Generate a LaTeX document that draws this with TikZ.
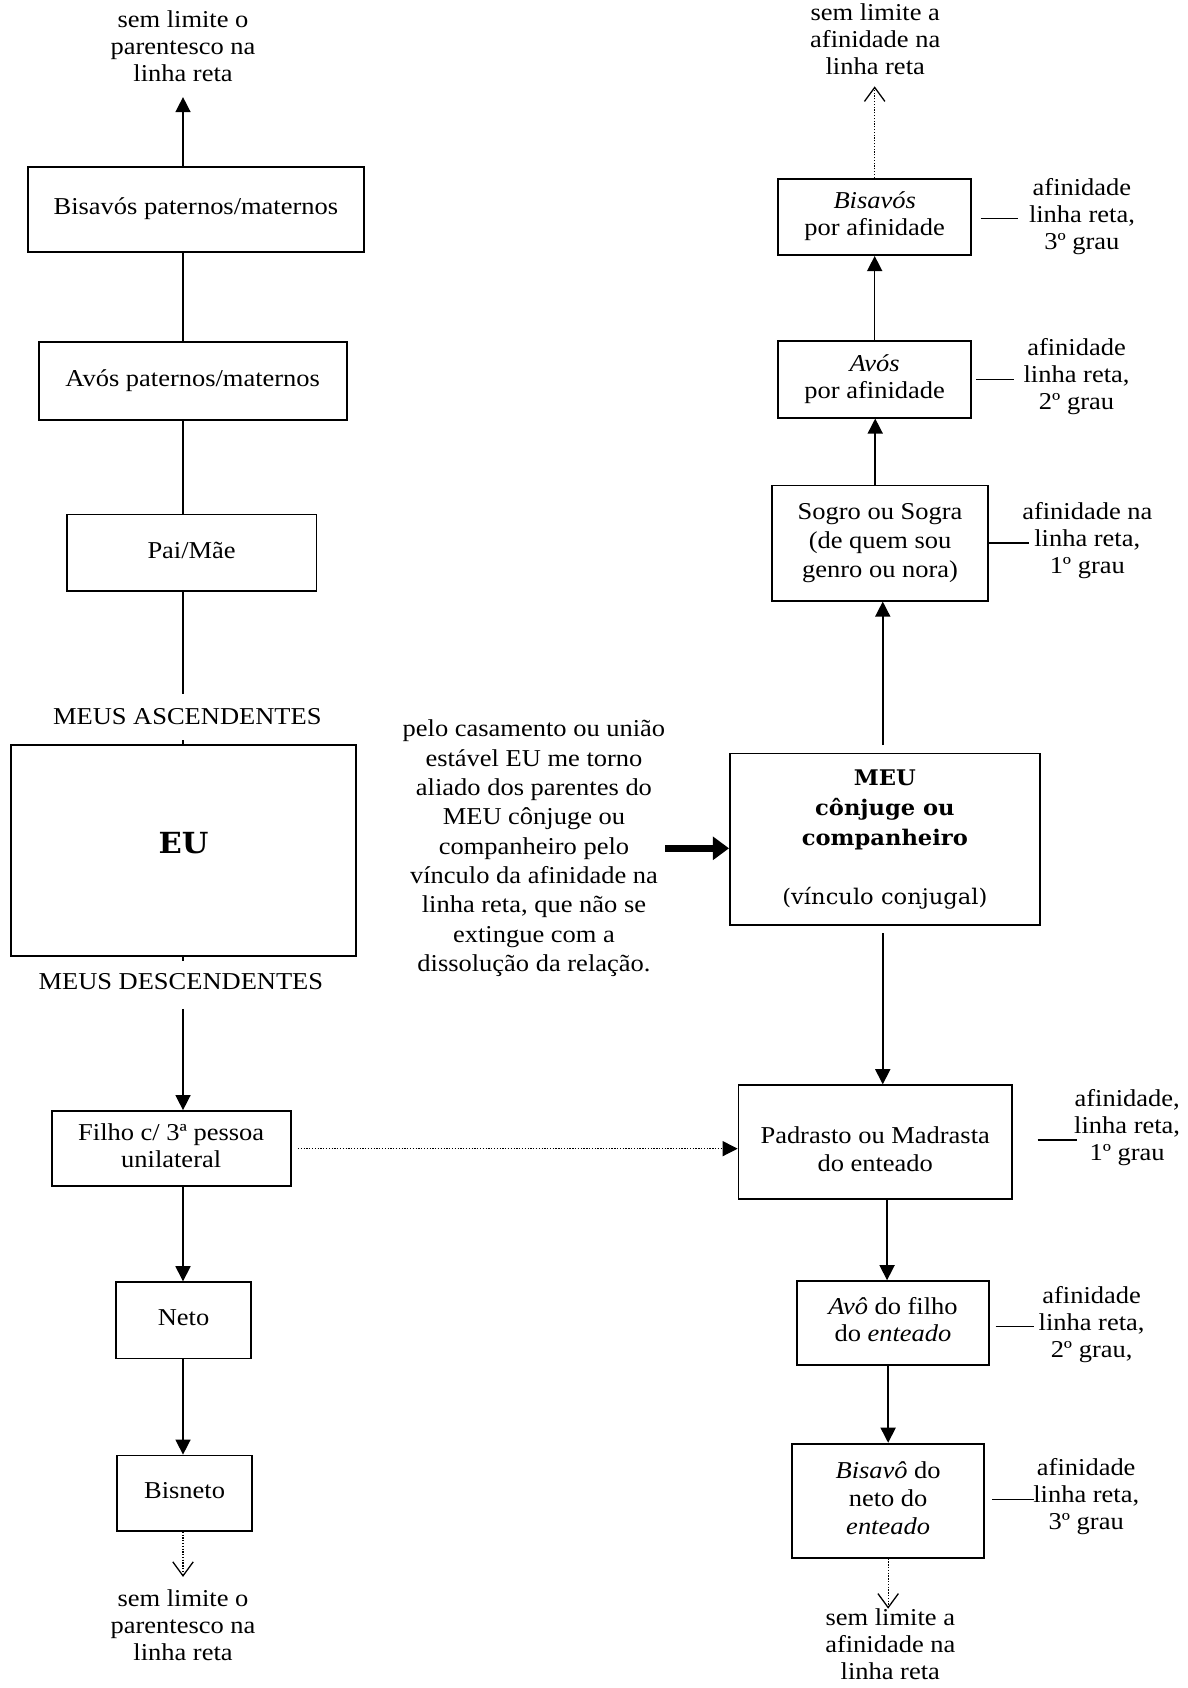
\documentclass[tikz,border=0pt]{standalone}
\usepackage{fontspec}
\setmainfont{Liberation Serif}[FakeStretch=1.093]
\newfontfamily\meufont{DejaVu Serif}[FakeStretch=1.05]
\usetikzlibrary{arrows.meta}
% centred stack of lines with strut-based spacing
\newcommand{\lns}[1]{\begin{tabular}{@{}c@{}}#1\end{tabular}}
% move the ink of a box without changing its reported size
\newcommand{\shiftdown}[2]{\raisebox{-#1}[\height][\depth]{#2}}
\tikzset{
  base/.style={font=\fontsize{22.5}{25}\selectfont},
  box/.style={draw, line width=1.6pt, inner sep=0pt, base},
  txt/.style={inner sep=0pt, base},
  link/.style={line width=1.4pt},
  arr/.style={link, -{Triangle[length=14pt,width=14pt]}},
  dotarr/.style={line width=1.1pt, dash pattern=on 1.2pt off 1.4pt,
    -{Straight Barb[length=13pt,width=19pt,line width=1.2pt]}},
  dotlink/.style={line width=1.1pt, dash pattern=on 1.2pt off 1.4pt,
    -{Triangle[length=14pt,width=14pt]}},
  side/.style={line width=1.4pt},
  bold arrow/.style={line width=6pt, -{Triangle[length=15pt,width=21pt]}},
}
\begin{document}
\begin{tikzpicture}[x=1pt,y=-1pt]
\useasboundingbox (0,0) rectangle (1103,1568);
\coordinate (xL) at (170,0);
\coordinate (xR) at (813,0);
\coordinate (xM) at (820,0);
\coordinate (xP) at (824,0);

% ---- own line: ascendants and descendants ----
\node[txt] (topL) at (170,46) {\lns{sem limite o\\parentesco na\\linha reta}};
\node[box, minimum width=312pt, minimum height=79pt] (bisL) at (182,194.5) {\lns{Bisavós paternos/maternos}};
\node[box, minimum width=286pt, minimum height=72pt] (avoL) at (179,354) {\lns{Avós paternos/maternos}};
\node[box, minimum width=232pt, minimum height=71pt] (pai) at (178,513.5) {\lns{Pai/Mãe}};
\node[txt] (asc) at (174,668) {\lns{MEUS ASCENDENTES}};
\node[box, minimum width=321pt, minimum height=196pt] (eu) at (170.5,790)
  {\raisebox{7pt}[\height][\depth]{\meufont\bfseries\fontsize{27}{30}\selectfont EU}};
\node[txt] (desc) at (168,914) {\lns{MEUS DESCENDENTES}};
\node[box, minimum width=222pt, minimum height=70pt] (filho) at (159,1067) {\lns{Filho c/ 3ª pessoa\\unilateral}};
\node[box, minimum width=125pt, minimum height=71pt] (neto) at (170.5,1226.5) {\lns{Neto}};
\node[box, minimum width=125pt, minimum height=70pt] (bisneto) at (171.5,1387) {\lns{Bisneto}};
\node[txt] (botL) at (170,1512) {\lns{sem limite o\\parentesco na\\linha reta}};

\draw[arr, shorten >=6.5pt] (bisL.north -| xL) -- (topL.south -| xL);
\draw[link] (bisL.south -| xL) -- (avoL.north -| xL);
\draw[link] (avoL.south -| xL) -- (pai.north -| xL);
\draw[link, shorten >=10.5pt] (pai.south -| xL) -- (asc.north -| xL);
\draw[link] (eu.north -| xL) -- ++(0,-4);
\draw[link] (eu.south -| xL) -- ++(0,4);
\draw[arr, shorten <=10.5pt] (desc.south -| xL) -- (filho.north -| xL);
\draw[arr] (filho.south -| xL) -- (neto.north -| xL);
\draw[arr] (neto.south -| xL) -- (bisneto.north -| xL);
\draw[dotarr, shorten >=9.5pt] (bisneto.south -| xL) -- (botL.north -| xL);

% ---- spouse's line: affinity ----
\node[txt] (topR) at (813,39) {\lns{sem limite a\\afinidade na\\linha reta}};
\node[box, minimum width=179pt, minimum height=71pt] (bisR) at (812.5,201.5) {\lns{\textit{Bisavós}\\por afinidade}};
\node[txt] (labBR) at (1005,202) {\lns{afinidade\\linha reta,\\3º grau}};
\node[box, minimum width=179pt, minimum height=71pt] (avoR) at (812.5,352.5) {\lns{\textit{Avós}\\por afinidade}};
\node[txt] (labAR) at (1000,350) {\lns{afinidade\\linha reta,\\2º grau}};
\node[box, minimum width=201pt, minimum height=107pt, font=\fontsize{22.5}{27}\selectfont] (sogro) at (817.5,504.5)
  {\lns{Sogro ou Sogra\\(de quem sou\\genro ou nora)}};
\node[txt] (labSR) at (1010,503) {\lns{afinidade na\\linha reta,\\1º grau}};

\node[txt, font=\fontsize{22.5}{27.25}\selectfont] (mid) at (496,788)
  {\lns{pelo casamento ou união\\estável EU me torno\\aliado dos parentes do\\MEU cônjuge ou\\companheiro pelo\\vínculo da afinidade na\\linha reta, que não se\\extingue com a\\dissolução da relação.}};
\node[box, minimum width=288pt, minimum height=159pt, font=\meufont\fontsize{20}{27.5}\selectfont] (meu) at (822,779.5)
  {\lns{\textbf{MEU}\\\textbf{cônjuge ou}\\\textbf{companheiro}\\\\(vínculo conjugal)}};

\node[box, minimum width=254pt, minimum height=106pt, font=\fontsize{22.5}{26}\selectfont] (padr) at (813,1061)
  {\shiftdown{9pt}{\lns{Padrasto ou Madrasta\\do enteado}}};
\node[txt] (labP) at (1047,1048) {\lns{afinidade,\\linha reta,\\1º grau}};
\node[box, minimum width=179pt, minimum height=78pt] (avoF) at (829.5,1229) {\lns{\textit{Avô} do filho\\do \textit{enteado}}};
\node[txt] (labAF) at (1014,1231) {\lns{afinidade\\linha reta,\\2º grau,}};
\node[box, minimum width=178pt, minimum height=106pt, font=\fontsize{22.5}{26}\selectfont] (bisF) at (825,1394)
  {\lns{\textit{Bisavô} do\\neto do\\\textit{enteado}}};
\node[txt] (labBF) at (1009,1391) {\lns{afinidade\\linha reta,\\3º grau}};
\node[txt] (botR) at (827,1530) {\lns{sem limite a\\afinidade na\\linha reta}};

\draw[dotarr, shorten >=3.5pt] (bisR.north) -- (topR.south -| bisR.north);
\draw[arr] (avoR.north) -- (bisR.south);
\draw[arr] (sogro.north -| xR) -- (avoR.south -| xR);
\draw[arr, shorten <=7pt] (meu.north -| xM) -- (sogro.south -| xM);
\draw[arr, shorten <=7pt] (meu.south -| xM) -- (padr.north -| xM);
\draw[arr] (padr.south -| xP) -- (avoF.north -| xP);
\draw[arr] (avoF.south -| bisF.north) -- (bisF.north);
\draw[dotarr, shorten >=-2pt] (bisF.south) -- (botR.north -| bisF.south);

\draw[bold arrow] (mid.east) -- (mid.east -| meu.west);
\draw[dotlink, shorten <=6pt] (filho.east) -- (filho.east -| padr.west);

% short ties between boxes and their degree labels
\draw[side] (bisR.east) ++(8,1.5) -- ++(35,0);
\draw[side] (avoR.east) ++(4,0) -- ++(35,0);
\draw[side] (sogro.east) -- ++(37,0);
\draw[side] (padr.east) ++(23,-2) -- ++(37,0);
\draw[side] (avoF.east) ++(5,3) -- ++(36,0);
\draw[side] (bisF.east) ++(7,-1) -- ++(39,0);
\end{tikzpicture}
\end{document}
